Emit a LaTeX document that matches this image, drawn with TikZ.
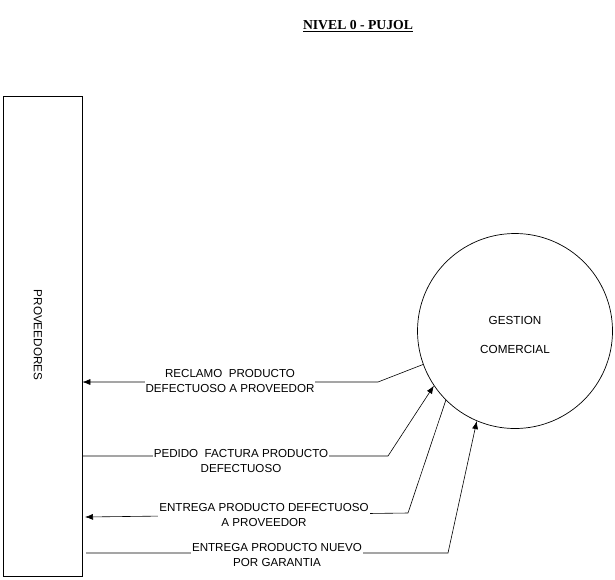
\documentclass[tikz,border=0pt]{standalone}
\usepackage{fontspec}
\setmainfont{Liberation Sans}
\newfontfamily\titlefont{Liberation Serif}
\usetikzlibrary{arrows.meta}
\begin{document}
\begin{tikzpicture}[x=1pt,y=-1pt,
  flow/.style={draw=black,line width=0.6pt},
  tip/.style={-{Latex[length=8pt,width=6pt]}},
  lbl/.style={font=\fontsize{11.6}{15}\selectfont,align=center,fill=white,inner sep=1pt},
  txt/.style={font=\fontsize{11.7}{13}\selectfont},
  box/.style={draw=black,line width=0.7pt,minimum width=79pt,minimum height=480pt,inner sep=0pt},
  proc/.style={draw=black,line width=0.7pt,circle,minimum size=195pt,inner sep=0pt}]
\useasboundingbox (0,0) rectangle (615,579);
\node[font=\titlefont\bfseries\fontsize{13.7}{15}\selectfont] (title) at (358,26) {\underline{NIVEL 0 - PUJOL}};
\node[box] (pv) at (42.5,336) {};
\node[txt,rotate=-90] (pvt) at (38,335) {PROVEEDORES};
\node[proc] (gc) at (515,331) {};
\node[txt] (g1) at (515,320) {GESTION};
\node[txt] (g2) at (515,349) {COMERCIAL};
% connector 1
\coordinate (c1) at (378,382);
\draw[flow,tip] (gc.200) -- (c1) -- (pv.east |- c1);
\node[lbl] (l1) at (230,381) {RECLAMO\ \ PRODUCTO\\DEFECTUOSO A PROVEEDOR};
% connector 2
\coordinate (c2) at (388,456);
\draw[flow,tip] (pv.east |- c2) -- (c2) -- (gc.214);
\node[lbl] (l2) at (241,461) {PEDIDO\ \ FACTURA PRODUCTO\\DEFECTUOSO};
% connector 3
\coordinate (c3) at (408,513);
\coordinate (e3) at (85,517);
\draw[flow,tip] (gc.225) -- (c3) -- (e3);
\node[lbl] (l3) at (264,515) {ENTREGA PRODUCTO DEFECTUOSO\\A PROVEEDOR};
% connector 4
\coordinate (s4) at (86,553);
\coordinate (c4) at (448,553);
\draw[flow,tip] (s4) -- (c4) -- (gc.247);
\node[lbl] (l4) at (277,555) {ENTREGA PRODUCTO NUEVO\\POR GARANTIA};
\end{tikzpicture}
\end{document}
